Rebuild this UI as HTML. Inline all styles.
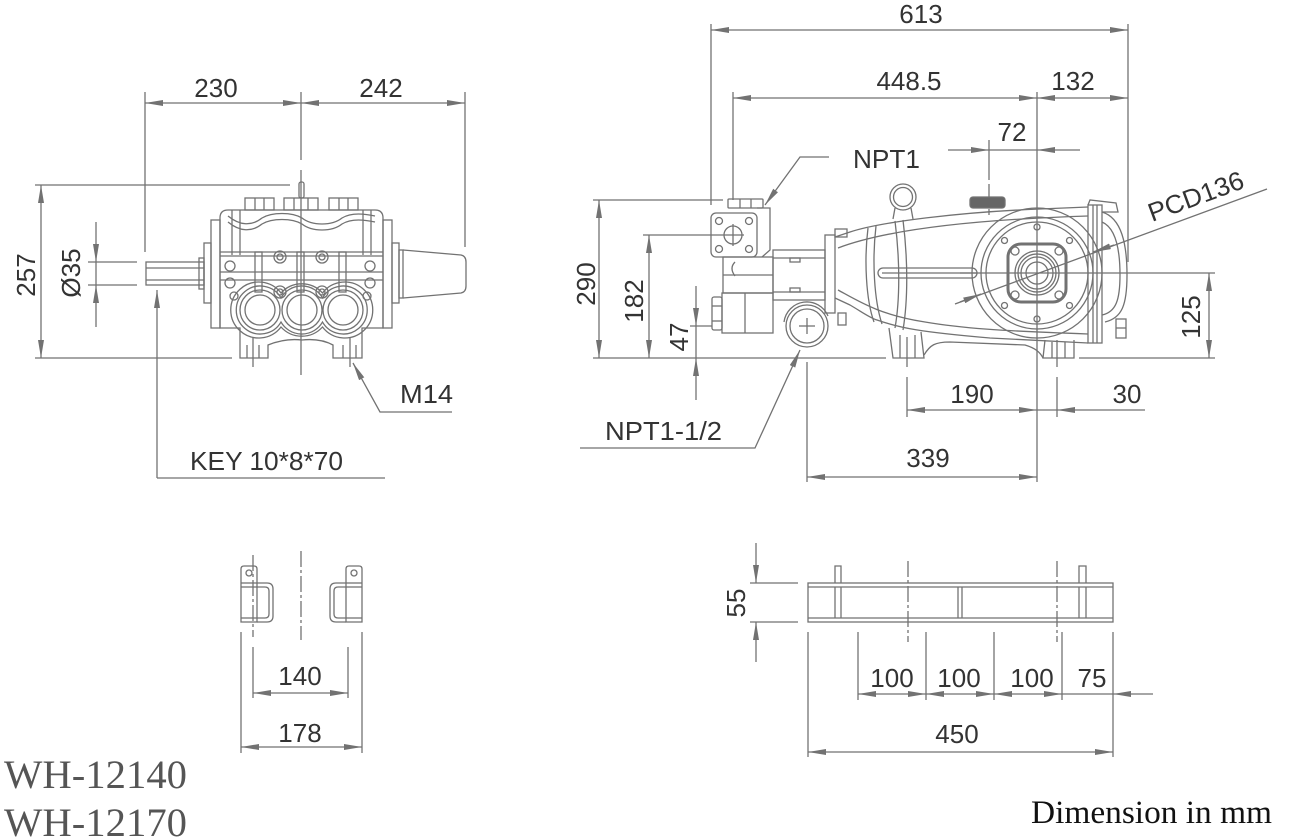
<!DOCTYPE html>
<html><head><meta charset="utf-8"><style>
html,body{margin:0;padding:0;background:#fff;}
svg{display:block;}
.ln line,.ln path,.ln rect,.ln circle,.ln polyline{fill:none;stroke:#727272;stroke-width:1.3;}
.ln .cl{stroke-dasharray:16 3 3 3;}
.t{font-family:"Liberation Sans",sans-serif;font-size:26px;fill:#333;}
</style></head><body>
<svg width="1304" height="840" viewBox="0 0 1304 840" xmlns="http://www.w3.org/2000/svg">
<defs>
<marker id="a" viewBox="0 0 18 6" refX="18" refY="3" markerWidth="18" markerHeight="6" markerUnits="userSpaceOnUse" orient="auto-start-reverse"><path d="M0,0L18,3L0,6z" fill="#727272"/></marker>
</defs>
<rect width="1304" height="840" fill="#fff"/>

<g class="ln">
<!-- ===== FRONT VIEW DIMENSIONS ===== -->
<line x1="145" y1="92" x2="145" y2="252"/>
<line x1="465" y1="92" x2="465" y2="247"/>
<line x1="301" y1="92" x2="301" y2="160"/>
<line x1="301" y1="170" x2="301" y2="375"/>
<line x1="145" y1="103" x2="301" y2="103" marker-start="url(#a)" marker-end="url(#a)"/>
<line x1="301" y1="103" x2="465" y2="103" marker-start="url(#a)" marker-end="url(#a)"/>
<line x1="35" y1="185" x2="290" y2="185"/>
<line x1="35" y1="358" x2="232" y2="358"/>
<line x1="41" y1="185" x2="41" y2="358" marker-start="url(#a)" marker-end="url(#a)"/>
<line x1="88" y1="262" x2="137" y2="262"/>
<line x1="88" y1="285" x2="137" y2="285"/>
<line x1="96" y1="222" x2="96" y2="262" marker-end="url(#a)"/>
<line x1="96" y1="327" x2="96" y2="285" marker-end="url(#a)"/>
<line x1="96" y1="262" x2="96" y2="285"/>
<line x1="157" y1="478" x2="157" y2="290" marker-end="url(#a)"/>
<line x1="157" y1="478" x2="385" y2="478"/>
<path d="M452,412 L380,412 L353,363" marker-end="url(#a)"/>

<!-- ===== FRONT VIEW BODY ===== -->
<rect x="146" y="262" width="58" height="23"/>
<line x1="146" y1="268" x2="204" y2="268"/>
<line x1="146" y1="280" x2="204" y2="280"/>
<rect x="199" y="258" width="5" height="31"/>
<rect x="204" y="243" width="7" height="60"/>
<rect x="211" y="220" width="9" height="108"/>
<rect x="383" y="220" width="9" height="108"/>
<path d="M220,218 Q220,210 228,210 L375,210 Q383,210 383,218 L383,328 L362,328 L362,358 L333,358 L333,345 Q320,338 302,340 Q285,338 268,345 L268,358 L240,358 L240,328 L220,328 Z"/>
<rect x="299" y="182" width="5" height="16" rx="2"/>
<rect x="245" y="198" width="29" height="12"/>
<line x1="255" y1="198" x2="255" y2="210"/><line x1="264" y1="198" x2="264" y2="210"/>
<rect x="284" y="198" width="34" height="12"/>
<line x1="294" y1="198" x2="294" y2="210"/><line x1="308" y1="198" x2="308" y2="210"/>
<rect x="329" y="198" width="29" height="12"/>
<line x1="339" y1="198" x2="339" y2="210"/><line x1="348" y1="198" x2="348" y2="210"/>
<path d="M228,216 C240,226 252,226 262,218 C272,212 292,212 302,218 C312,226 332,226 342,218 C352,212 365,214 375,216"/>
<path d="M228,222 C240,232 252,232 262,224 C272,218 292,218 302,224 C312,232 332,232 342,224 C352,218 365,220 375,222"/>
<line x1="232" y1="210" x2="232" y2="255"/><line x1="240" y1="210" x2="240" y2="255"/>
<line x1="363" y1="210" x2="363" y2="255"/><line x1="371" y1="210" x2="371" y2="255"/>
<line x1="220" y1="252" x2="383" y2="252"/>
<line x1="220" y1="256" x2="383" y2="256"/>
<line x1="220" y1="272" x2="383" y2="272"/>
<line x1="220" y1="280" x2="383" y2="280"/>
<rect x="255" y="252" width="7" height="40"/>
<rect x="297" y="252" width="7" height="40"/>
<rect x="339" y="252" width="7" height="40"/>
<circle cx="230" cy="266" r="5"/><circle cx="370" cy="266" r="5"/>
<circle cx="230" cy="283" r="5"/><circle cx="370" cy="283" r="5"/>
<circle cx="234" cy="296" r="4"/><circle cx="367" cy="296" r="4"/>
<circle cx="280" cy="257" r="6"/><circle cx="322" cy="257" r="6"/>
<circle cx="280" cy="292" r="6"/><circle cx="322" cy="292" r="6"/>
<circle cx="280" cy="257" r="3"/><circle cx="322" cy="257" r="3"/>
<circle cx="280" cy="292" r="3"/><circle cx="322" cy="292" r="3"/>
<path d="M281,297.9 A24,24 0 1,0 281,322.1 A24,24 0 0,0 322.5,322.1 A24,24 0 1,0 322.5,297.9 A24,24 0 0,0 281,297.9 Z"/>
<path d="M281,293 A28,28 0 1,0 281,327 A28,28 0 0,0 322.5,327 A28,28 0 1,0 322.5,293 A28,28 0 0,0 281,293 Z"/>
<circle cx="260" cy="310" r="20"/><circle cx="302" cy="310" r="20"/><circle cx="343" cy="310" r="20"/>
<circle cx="260" cy="310" r="15"/><circle cx="302" cy="310" r="15"/><circle cx="343" cy="310" r="15"/>
<line x1="253" y1="337" x2="253" y2="367"/>
<line x1="350" y1="337" x2="350" y2="367"/>
<line x1="247" y1="345" x2="247" y2="358"/><line x1="259" y1="345" x2="259" y2="358"/>
<line x1="343" y1="345" x2="343" y2="358"/><line x1="356" y1="345" x2="356" y2="358"/>
<rect x="392" y="243" width="7" height="60"/>
<rect x="399" y="250" width="4" height="48"/>
<path d="M403,250 L461,255 Q466,256 466,262 L466,286 Q466,292 461,293 L403,298"/>

<!-- ===== SIDE VIEW DIMENSIONS ===== -->
<line x1="711" y1="24" x2="711" y2="205"/>
<line x1="733" y1="92" x2="733" y2="200"/>
<line x1="1128" y1="24" x2="1128" y2="262"/>
<line x1="1037" y1="92" x2="1037" y2="482"/>
<line x1="989" y1="140" x2="989" y2="180"/>
<line x1="989" y1="184" x2="989" y2="215" class="cl"/>
<line x1="711" y1="30" x2="1128" y2="30" marker-start="url(#a)" marker-end="url(#a)"/>
<line x1="733" y1="98" x2="1037" y2="98" marker-start="url(#a)" marker-end="url(#a)"/>
<line x1="1037" y1="98" x2="1128" y2="98" marker-start="url(#a)" marker-end="url(#a)"/>
<line x1="948" y1="150" x2="989" y2="150" marker-end="url(#a)"/>
<line x1="1080" y1="150" x2="1037" y2="150" marker-end="url(#a)"/>
<line x1="989" y1="150" x2="1037" y2="150"/>
<path d="M829,157 L800,157 L765,205" marker-end="url(#a)"/>
<line x1="593" y1="200" x2="723" y2="200"/>
<line x1="643" y1="235" x2="722" y2="235"/>
<line x1="593" y1="358" x2="886" y2="358"/>
<line x1="1079" y1="358" x2="1215" y2="358"/>
<line x1="599" y1="200" x2="599" y2="358" marker-start="url(#a)" marker-end="url(#a)"/>
<line x1="649" y1="235" x2="649" y2="358" marker-start="url(#a)" marker-end="url(#a)"/>
<line x1="690" y1="326" x2="712" y2="326"/>
<line x1="696" y1="286" x2="696" y2="326" marker-end="url(#a)"/>
<line x1="696" y1="400" x2="696" y2="358" marker-end="url(#a)"/>
<line x1="696" y1="326" x2="696" y2="358"/>
<path d="M580,448 L755,448 L800,350" marker-end="url(#a)"/>
<line x1="807" y1="362" x2="807" y2="482"/>
<line x1="807" y1="477" x2="1037" y2="477" marker-start="url(#a)" marker-end="url(#a)"/>
<line x1="907" y1="337" x2="907" y2="367"/>
<line x1="907" y1="377" x2="907" y2="417"/>
<line x1="1057" y1="340" x2="1057" y2="367"/>
<line x1="1057" y1="377" x2="1057" y2="417"/>
<line x1="907" y1="410" x2="1037" y2="410" marker-start="url(#a)" marker-end="url(#a)"/>
<line x1="1037" y1="410" x2="1057" y2="410"/>
<line x1="1145" y1="410" x2="1057" y2="410" marker-end="url(#a)"/>
<line x1="960" y1="273" x2="1215" y2="273"/>
<line x1="1209" y1="273" x2="1209" y2="358" marker-start="url(#a)" marker-end="url(#a)"/>
<line x1="955" y1="304" x2="1267" y2="189"/>
<line x1="960" y1="302" x2="981" y2="294" marker-end="url(#a)"/>
<line x1="1114" y1="245" x2="1093" y2="252" marker-end="url(#a)"/>

<!-- ===== SIDE VIEW BODY ===== -->
<rect x="728" y="199" width="35" height="9" rx="1"/>
<line x1="740" y1="199" x2="740" y2="208"/><line x1="751" y1="199" x2="751" y2="208"/>
<path d="M757,208 L770,208 L770,250 L762,257"/>
<rect x="711" y="213" width="46" height="44" rx="5"/>
<circle cx="719" cy="221" r="3.5"/><circle cx="749" cy="221" r="3.5"/>
<circle cx="719" cy="249" r="3.5"/><circle cx="749" cy="249" r="3.5"/>
<circle cx="733" cy="235" r="9"/>
<line x1="722" y1="235" x2="744" y2="235"/><line x1="733" y1="224" x2="733" y2="246"/>
<rect x="723" y="257" width="50" height="36"/>
<path d="M735,262 Q729,268 735,276"/>
<line x1="723" y1="275" x2="773" y2="275"/>
<rect x="722" y="293" width="51" height="40"/>
<line x1="745" y1="293" x2="745" y2="333"/>
<rect x="712" y="297" width="10" height="33" rx="2"/>
<line x1="712" y1="306" x2="722" y2="306"/><line x1="712" y1="321" x2="722" y2="321"/>
<rect x="773" y="250" width="52" height="50"/>
<line x1="773" y1="258" x2="825" y2="258"/>
<line x1="773" y1="292" x2="825" y2="292"/>
<rect x="790" y="258" width="10" height="4"/>
<rect x="790" y="288" width="10" height="4"/>
<path d="M784,322 A23,23 0 0,1 828,316" />
<circle cx="807" cy="326" r="21" style="fill:#fff"/>
<circle cx="807" cy="326" r="17"/>
<line x1="799" y1="326" x2="815" y2="326"/><line x1="807" y1="318" x2="807" y2="334"/>
<rect x="825" y="235" width="10" height="78"/>
<rect x="835" y="229" width="12" height="8"/>
<rect x="838" y="313" width="8" height="12"/>
<path d="M835,237 L850,232 C880,222 960,212 1040,209 L1088,207"/>
<path d="M838,248 C880,232 960,220 1088,216"/>
<path d="M835,298 L850,305 C862,312 870,318 877,320 C900,328 920,332 990,338 L1088,343"/>
<path d="M838,290 C860,302 880,315 925,322 C960,328 1000,331 1088,334"/>
<path d="M868,228 C864,260 866,300 874,322"/>
<path d="M876,226 C872,260 874,300 882,324"/>
<path d="M895,221 C900,260 900,300 895,328"/>
<path d="M903,220 C908,260 908,300 903,330"/>
<rect x="878" y="268" width="99" height="10" rx="5"/>
<line x1="882" y1="273" x2="977" y2="273"/>
<circle cx="903" cy="197" r="13"/>
<circle cx="903" cy="197" r="9.5"/>
<path d="M895,208 L893,219 M911,208 L913,219"/>
<rect x="970" y="197" width="35" height="11" rx="3" style="fill:#666"/>
<circle cx="1037" cy="273" r="65"/>
<circle cx="1037" cy="273" r="56"/>
<circle cx="1037" cy="273" r="51"/>
<circle cx="1037" cy="227" r="3"/><circle cx="1037" cy="319" r="3"/>
<circle cx="1004.5" cy="240.5" r="3"/><circle cx="1069.5" cy="240.5" r="3"/>
<circle cx="1004.5" cy="305.5" r="3"/><circle cx="1069.5" cy="305.5" r="3"/>
<rect x="1008" y="244" width="58" height="58" rx="13" style="stroke-width:3"/>
<circle cx="1015" cy="251" r="4"/><circle cx="1059" cy="251" r="4"/>
<circle cx="1015" cy="295" r="4"/><circle cx="1059" cy="295" r="4"/>
<circle cx="1037" cy="273" r="22"/>
<circle cx="1037" cy="273" r="19"/>
<circle cx="1037" cy="273" r="16"/>
<circle cx="1037" cy="273" r="11"/>
<rect x="1088" y="205" width="14" height="138"/>
<line x1="1093" y1="205" x2="1093" y2="343"/>
<line x1="1097" y1="205" x2="1097" y2="343"/>
<path d="M1088,205 L1090,200 L1116,203 L1118,212 L1102,212"/>
<path d="M1102,212 C1122,218 1127,245 1127,275 C1127,305 1122,318 1105,322"/>
<path d="M1102,222 C1116,228 1120,250 1120,275 C1120,300 1116,312 1102,315"/>
<rect x="1116" y="319" width="10" height="19"/>
<line x1="1116" y1="328" x2="1126" y2="328"/>
<path d="M889,328 L893,358 L924,358 L921,332"/>
<line x1="900" y1="335" x2="900" y2="358"/>
<line x1="915" y1="335" x2="915" y2="358"/>
<path d="M924,355 C930,345 935,342 950,342 L1025,345 C1035,348 1040,352 1043,358"/>
<path d="M1045,340 L1043,358 L1074,358 L1074,340"/>
<line x1="1052" y1="342" x2="1052" y2="358"/>
<line x1="1065" y1="342" x2="1065" y2="358"/>

<!-- ===== BOTTOM LEFT VIEW ===== -->
<path d="M241,622 L241,569 Q241,566 244,566 L254,566 Q257,566 257,569 L257,622 Z"/>
<circle cx="249" cy="573" r="3"/>
<line x1="241" y1="583" x2="257" y2="583"/><line x1="241" y1="587" x2="257" y2="587"/><line x1="241" y1="618" x2="257" y2="618"/>
<path d="M257,583 L267,583 Q273,583 273,589 L273,616 Q273,622 267,622 L257,622"/>
<path d="M257,587 L265,587 Q269,587 269,591 L269,614 Q269,618 265,618 L257,618"/>
<path d="M362,622 L362,569 Q362,566 359,566 L349,566 Q346,566 346,569 L346,622 Z"/>
<circle cx="354" cy="573" r="3"/>
<line x1="346" y1="583" x2="362" y2="583"/><line x1="346" y1="587" x2="362" y2="587"/><line x1="346" y1="618" x2="362" y2="618"/>
<path d="M346,583 L336,583 Q330,583 330,589 L330,616 Q330,622 336,622 L346,622"/>
<path d="M346,587 L338,587 Q334,587 334,591 L334,614 Q334,618 338,618 L346,618"/>
<line x1="253" y1="555" x2="253" y2="637" class="cl"/>
<line x1="301" y1="551" x2="301" y2="640" class="cl"/>
<line x1="241" y1="632" x2="241" y2="753"/>
<line x1="362" y1="632" x2="362" y2="753"/>
<line x1="253" y1="647" x2="253" y2="698"/>
<line x1="348" y1="647" x2="348" y2="698"/>
<line x1="253" y1="693" x2="348" y2="693" marker-start="url(#a)" marker-end="url(#a)"/>
<line x1="241" y1="747" x2="362" y2="747" marker-start="url(#a)" marker-end="url(#a)"/>

<!-- ===== BOTTOM RIGHT VIEW ===== -->
<rect x="808" y="583" width="305" height="39"/>
<line x1="808" y1="587" x2="1113" y2="587"/>
<line x1="808" y1="618" x2="1113" y2="618"/>
<path d="M835,583 L835,566 L841,566 L841,583"/>
<path d="M1079,583 L1079,566 L1086,566 L1086,583"/>
<line x1="835" y1="587" x2="835" y2="618"/><line x1="841" y1="587" x2="841" y2="618"/>
<line x1="958" y1="587" x2="958" y2="618"/><line x1="962" y1="587" x2="962" y2="618"/>
<line x1="1079" y1="587" x2="1079" y2="618"/><line x1="1086" y1="587" x2="1086" y2="618"/>
<line x1="908" y1="561" x2="908" y2="642" class="cl"/>
<line x1="1057" y1="561" x2="1057" y2="642" class="cl"/>
<line x1="750" y1="583" x2="798" y2="583"/>
<line x1="750" y1="622" x2="798" y2="622"/>
<line x1="756" y1="543" x2="756" y2="583" marker-end="url(#a)"/>
<line x1="756" y1="662" x2="756" y2="622" marker-end="url(#a)"/>
<line x1="808" y1="632" x2="808" y2="757"/>
<line x1="858" y1="632" x2="858" y2="700"/>
<line x1="926" y1="632" x2="926" y2="700"/>
<line x1="994" y1="632" x2="994" y2="700"/>
<line x1="1062" y1="632" x2="1062" y2="700"/>
<line x1="1113" y1="632" x2="1113" y2="757"/>
<line x1="858" y1="694" x2="926" y2="694" marker-start="url(#a)" marker-end="url(#a)"/>
<line x1="926" y1="694" x2="994" y2="694" marker-start="url(#a)" marker-end="url(#a)"/>
<line x1="994" y1="694" x2="1062" y2="694" marker-start="url(#a)" marker-end="url(#a)"/>
<line x1="1062" y1="694" x2="1113" y2="694"/>
<line x1="1153" y1="694" x2="1113" y2="694" marker-end="url(#a)"/>
<line x1="808" y1="752" x2="1113" y2="752" marker-start="url(#a)" marker-end="url(#a)"/>
</g>

<!-- ===== TEXT ===== -->
<g class="t">
<text x="216" y="97" text-anchor="middle">230</text>
<text x="381" y="97" text-anchor="middle">242</text>
<text transform="translate(35,275) rotate(-90)" text-anchor="middle">257</text>
<text transform="translate(80,273) rotate(-90)" text-anchor="middle">Ø35</text>
<text x="400" y="403" textLength="53" lengthAdjust="spacingAndGlyphs">M14</text>
<text x="190" y="470" textLength="153" lengthAdjust="spacingAndGlyphs">KEY 10*8*70</text>

<text x="921" y="23" text-anchor="middle">613</text>
<text x="909" y="90" text-anchor="middle">448.5</text>
<text x="1073" y="90" text-anchor="middle">132</text>
<text x="1012" y="141" text-anchor="middle">72</text>
<text x="853" y="168" textLength="67" lengthAdjust="spacingAndGlyphs">NPT1</text>
<text transform="translate(595,284) rotate(-90)" text-anchor="middle">290</text>
<text transform="translate(643,301) rotate(-90)" text-anchor="middle">182</text>
<text transform="translate(688,337) rotate(-90)" text-anchor="middle">47</text>
<text x="605" y="440" textLength="117" lengthAdjust="spacingAndGlyphs">NPT1-1/2</text>
<text x="928" y="467" text-anchor="middle">339</text>
<text x="972" y="403" text-anchor="middle">190</text>
<text x="1127" y="403" text-anchor="middle">30</text>
<text transform="translate(1200,317) rotate(-90)" text-anchor="middle">125</text>
<text transform="translate(1152,222) rotate(-20.2)" textLength="100" lengthAdjust="spacingAndGlyphs">PCD136</text>

<text x="300" y="685" text-anchor="middle">140</text>
<text x="300" y="742" text-anchor="middle">178</text>
<text transform="translate(745,603) rotate(-90)" text-anchor="middle">55</text>
<text x="892" y="687" text-anchor="middle">100</text>
<text x="959" y="687" text-anchor="middle">100</text>
<text x="1032" y="687" text-anchor="middle">100</text>
<text x="1092" y="687" text-anchor="middle">75</text>
<text x="957" y="743" text-anchor="middle">450</text>
</g>

<text x="4" y="788" style="font-family:'Liberation Serif',serif;font-size:40px;fill:#555;" textLength="183" lengthAdjust="spacingAndGlyphs">WH-12140</text>
<text x="4" y="836" style="font-family:'Liberation Serif',serif;font-size:40px;fill:#555;" textLength="183" lengthAdjust="spacingAndGlyphs">WH-12170</text>
<text x="1031" y="823" style="font-family:'Liberation Serif',serif;font-size:33px;fill:#111;" textLength="241" lengthAdjust="spacingAndGlyphs">Dimension in mm</text>
</svg>
</body></html>
